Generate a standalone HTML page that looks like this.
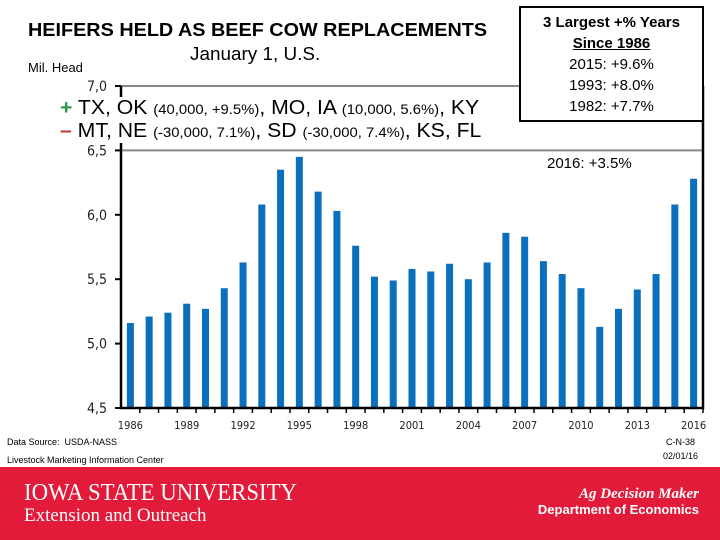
<!DOCTYPE html>
<html><head><meta charset="utf-8"><style>
body{margin:0;width:720px;height:540px;background:#fff;position:relative;overflow:hidden;font-family:"Liberation Sans",sans-serif}
.a{position:absolute;white-space:nowrap}
</style></head><body>
<div class="a" style="left:28px;top:20px;font-size:18px;font-weight:bold;transform:scaleX(1.1);transform-origin:left">HEIFERS HELD AS BEEF COW REPLACEMENTS</div>
<div class="a" style="left:190px;top:44px;font-size:18px;transform:scaleX(1.05);transform-origin:left">January 1, U.S.</div>
<div class="a" style="left:28px;top:60px;font-size:13px">Mil. Head</div>
<svg id="c" width="720" height="470" style="position:absolute;left:0;top:0"></svg>
<div class="a" style="left:60px;top:97px;font-size:20px;background:#fff;transform:scaleX(1.06);transform-origin:left"><span style="color:#2a9d4a;font-weight:bold">+</span> TX, OK <span style="font-size:14px">(40,000, +9.5%)</span>, MO, IA <span style="font-size:14px">(10,000, 5.6%)</span>, KY</div>
<div class="a" style="left:60px;top:120px;font-size:20px;background:#fff;transform:scaleX(1.06);transform-origin:left"><span style="color:#c0392b;font-weight:bold">–</span> MT, NE <span style="font-size:14px">(-30,000, 7.1%)</span>, SD <span style="font-size:14px">(-30,000, 7.4%)</span>, KS, FL</div>
<div class="a" style="left:519px;top:6px;width:185px;height:116px;border:2px solid #000;background:#fff;text-align:center;font-size:15px;line-height:21px;padding-top:4px;box-sizing:border-box">
<b>3 Largest +% Years</b><br><b style="text-decoration:underline">Since 1986</b><br>2015: +9.6%<br>1993: +8.0%<br>1982: +7.7%</div>
<div class="a" style="left:547px;top:155px;font-size:15px">2016: +3.5%</div>
<div class="a" style="left:7px;top:437px;font-size:9px">Data Source:&nbsp; USDA-NASS</div>
<div class="a" style="left:7px;top:455px;font-size:9px">Livestock Marketing Information Center</div>
<div class="a" style="left:666px;top:437px;font-size:9px">C-N-38</div>
<div class="a" style="left:663px;top:451px;font-size:9px">02/01/16</div>
<div class="a" style="left:0;top:467px;width:720px;height:73px;background:#e31b3a"></div>
<div class="a" style="left:24px;top:480px;font-family:'Liberation Serif',serif;font-size:24px;color:#fff;transform:scaleX(.95);transform-origin:left">IOWA STATE UNIVERSITY</div>
<div class="a" style="left:24px;top:505px;font-family:'Liberation Serif',serif;font-size:19px;color:#fff">Extension and Outreach</div>
<div class="a" style="right:21px;top:486px;font-family:'Liberation Serif',serif;font-style:italic;font-weight:bold;font-size:15px;color:#fff">Ag Decision Maker</div>
<div class="a" style="right:21px;top:502px;font-weight:bold;font-size:13px;color:#fff">Department of Economics</div>
<script>
const years=[1986,1987,1988,1989,1990,1991,1992,1993,1994,1995,1996,1997,1998,1999,2000,2001,2002,2003,2004,2005,2006,2007,2008,2009,2010,2011,2012,2013,2014,2015,2016];
const values=[5.16,5.21,5.24,5.31,5.27,5.43,5.63,6.08,6.35,6.45,6.18,6.03,5.76,5.52,5.49,5.58,5.56,5.62,5.50,5.63,5.86,5.83,5.64,5.54,5.43,5.13,5.27,5.42,5.54,6.08,6.28];
const yTicks=[4.5,5.0,5.5,6.0,6.5,7.0];
const X0=121,X1=703,Y0=408,Y1=86,ymin=4.5,ymax=7.0;
const svg=document.getElementById('c'),NS='http://www.w3.org/2000/svg';
const step=(X1-X0)/years.length;
const xs=i=>X0+step*(i+0.5);
const ys=v=>Y0-(v-ymin)/(ymax-ymin)*(Y0-Y1);
function mk(t,a){const e=document.createElementNS(NS,t);for(const k in a)e.setAttribute(k,a[k]);svg.appendChild(e);return e;}
yTicks.forEach(v=>{
  if(v>=6.5){const g=mk('line',{x1:X0,x2:X1,y1:ys(v),y2:ys(v),stroke:'#888','stroke-width':2});
  
  }
  const t=mk('text',{x:X0-14,y:ys(v)+5,'text-anchor':'end','font-size':14,'font-family':'DejaVu Sans Condensed, Liberation Sans, sans-serif',fill:'#222'});
  t.textContent=v.toFixed(1).replace('.',',');
  
  
  const tk=mk('line',{x1:X0-6,x2:X0,y1:ys(v),y2:ys(v),stroke:'#000','stroke-width':2});
  
  
});
values.forEach((v,i)=>{
  const r=mk('rect',{x:xs(i)-3.5,y:ys(v),width:7,height:Y0-ys(v),fill:'#0a6fbd'});
  
  
});
years.forEach((y,i)=>{
  const tk=mk('line',{x1:xs(i)+step/2,x2:xs(i)+step/2,y1:Y0,y2:Y0+5,stroke:'#000','stroke-width':1.5});
  
  
  if(i%3===0){const t=mk('text',{x:xs(i),y:Y0+21,'text-anchor':'middle','font-size':11,'font-family':'DejaVu Sans Condensed, Liberation Sans, sans-serif',fill:'#222'});
  t.textContent=y;
  
  }
});
const ax=mk('polyline',{points:`${X0},${Y1} ${X0},${Y0} ${X1},${Y0} ${X1},${Y1}`,fill:'none',stroke:'#000','stroke-width':2.5});


</script>
</body></html>
